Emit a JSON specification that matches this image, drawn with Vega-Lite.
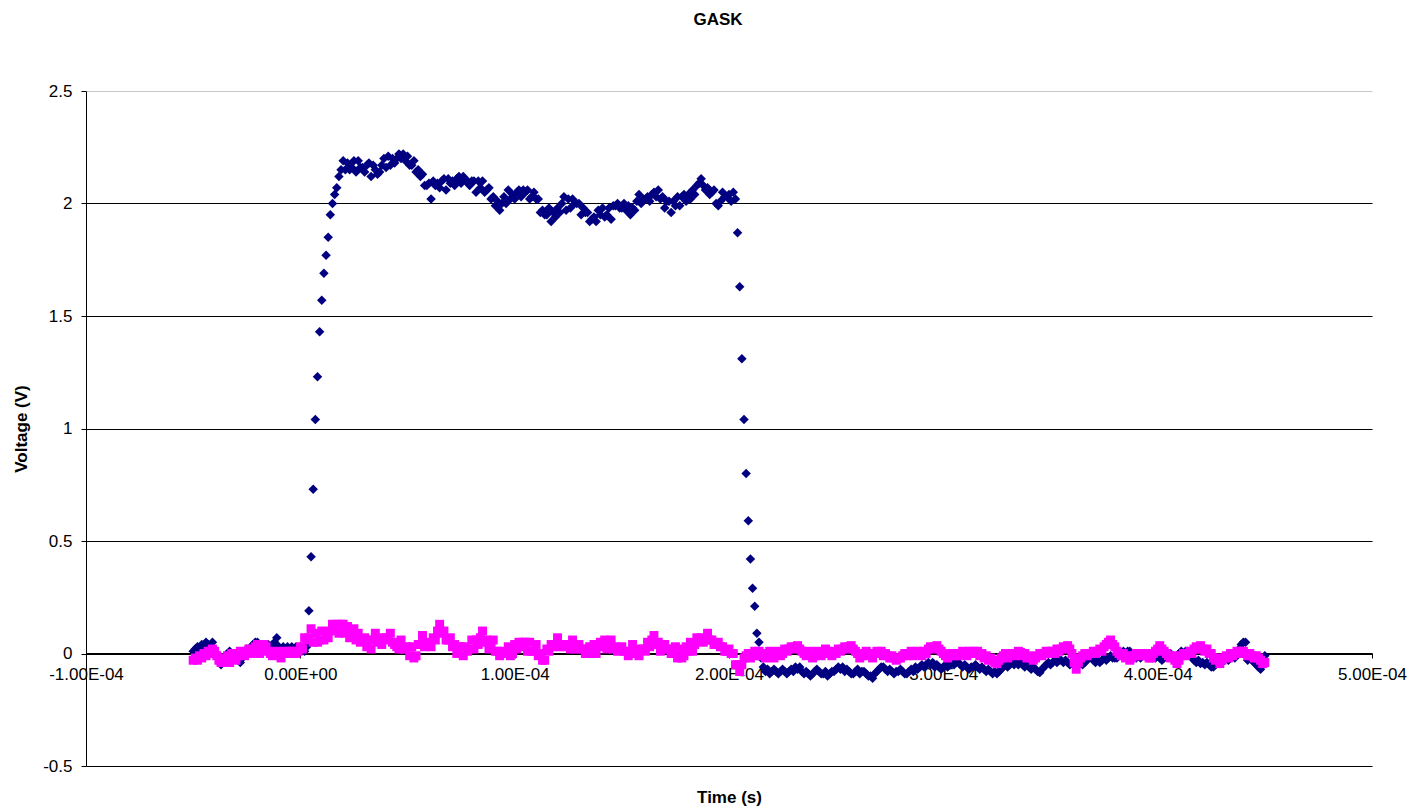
{
"$schema": "https://vega.github.io/schema/vega-lite/v6.json",
"autosize": "none",
"width": 1286,
"height": 675,
"padding": {"left": 86, "top": 91, "right": 39, "bottom": 42},
"background": "white",
"title": {"text": "GASK", "font": "Liberation Sans", "fontSize": 17, "fontWeight": "bold", "color": "black", "anchor": "middle", "offset": 53, "dx": -11},
"config": {"view": {"stroke": null}},
"data": {"values": [
{"t":-50e-6,"a":0.01,"b":-0.03},{"t":-49e-6,"a":0.02,"b":-0.02},{"t":-48e-6,"a":0.03,"b":-0.03},{"t":-47e-6,"a":0.02,"b":-0.01},{"t":-46e-6,"a":0.04,"b":-0.02},
{"t":-45e-6,"a":0.03,"b":0.0},{"t":-44e-6,"a":0.05,"b":-0.01},{"t":-43e-6,"a":0.04,"b":0.01},{"t":-42e-6,"a":0.03,"b":0.0},{"t":-41e-6,"a":0.05,"b":0.02},
{"t":-40e-6,"a":0.02,"b":0.01},{"t":-39e-6,"a":0.0,"b":-0.01},{"t":-38e-6,"a":-0.02,"b":-0.03},{"t":-37e-6,"a":-0.05,"b":-0.04},{"t":-36e-6,"a":-0.03,"b":-0.02},
{"t":-35e-6,"a":-0.01,"b":-0.03},{"t":-34e-6,"a":0.0,"b":-0.01},{"t":-33e-6,"a":0.01,"b":-0.04},{"t":-32e-6,"a":-0.01,"b":0.0},{"t":-31e-6,"a":0.0,"b":-0.02},
{"t":-30e-6,"a":-0.02,"b":-0.03},{"t":-29e-6,"a":-0.03,"b":-0.01},{"t":-28e-6,"a":-0.04,"b":0.01},{"t":-27e-6,"a":-0.02,"b":0.0},{"t":-26e-6,"a":0.0,"b":-0.01},
{"t":-25e-6,"a":0.02,"b":0.01},{"t":-24e-6,"a":0.01,"b":0.02},{"t":-23e-6,"a":0.03,"b":0.0},{"t":-22e-6,"a":0.04,"b":0.02},{"t":-21e-6,"a":0.05,"b":0.03},
{"t":-20e-6,"a":0.05,"b":0.04},{"t":-19e-6,"a":0.04,"b":0.0},{"t":-18e-6,"a":0.03,"b":0.02},{"t":-17e-6,"a":0.02,"b":0.04},{"t":-16e-6,"a":0.03,"b":0.03},
{"t":-15e-6,"a":0.04,"b":0.01},{"t":-14e-6,"a":0.03,"b":0.0},{"t":-13e-6,"a":0.04,"b":-0.01},{"t":-12e-6,"a":0.05,"b":0.0},{"t":-11e-6,"a":0.07,"b":0.01},
{"t":-10e-6,"a":0.03,"b":0.0},{"t":-9e-6,"a":0.02,"b":-0.02},{"t":-8e-6,"a":0.03,"b":0.0},{"t":-7e-6,"a":0.02,"b":0.01},{"t":-6e-6,"a":0.03,"b":0.0},
{"t":-5e-6,"a":0.02,"b":0.01},{"t":-4e-6,"a":0.03,"b":0.0},{"t":-3e-6,"a":0.02,"b":0.01},{"t":-2e-6,"a":0.03,"b":0.0},{"t":-1e-6,"a":0.02,"b":0.01},
{"t":0,"a":0.03,"b":0.03},{"t":1e-6,"a":0.02,"b":0.02},{"t":2e-6,"a":0.01,"b":0.07},{"t":3e-6,"a":0.03,"b":0.06},{"t":4e-6,"a":0.19,"b":0.07},
{"t":5e-6,"a":0.43,"b":0.11},{"t":6e-6,"a":0.73,"b":0.05},{"t":7e-6,"a":1.04,"b":0.09},{"t":8e-6,"a":1.23,"b":0.05},{"t":9e-6,"a":1.43,"b":0.06},
{"t":10e-6,"a":1.57,"b":0.1},{"t":11e-6,"a":1.69,"b":0.06},{"t":12e-6,"a":1.77,"b":0.09},{"t":13e-6,"a":1.85,"b":0.07},{"t":14e-6,"a":1.95,"b":0.1},
{"t":15e-6,"a":2.0,"b":0.13},{"t":16e-6,"a":2.04,"b":0.11},{"t":17e-6,"a":2.07,"b":0.13},{"t":18e-6,"a":2.12,"b":0.09},{"t":19e-6,"a":2.15,"b":0.13},
{"t":20e-6,"a":2.19,"b":0.13},{"t":21e-6,"a":2.15,"b":0.09},{"t":22e-6,"a":2.18,"b":0.12},{"t":23e-6,"a":2.15,"b":0.07},{"t":24e-6,"a":2.16,"b":0.08},
{"t":25e-6,"a":2.19,"b":0.11},{"t":26e-6,"a":2.14,"b":0.06},{"t":27e-6,"a":2.19,"b":0.09},{"t":28e-6,"a":2.16,"b":0.05},{"t":29e-6,"a":2.16,"b":0.06},
{"t":30e-6,"a":2.14,"b":0.07},{"t":31e-6,"a":2.17,"b":0.03},{"t":32e-6,"a":2.18,"b":0.06},{"t":33e-6,"a":2.12,"b":0.02},{"t":34e-6,"a":2.17,"b":0.06},
{"t":35e-6,"a":2.15,"b":0.09},{"t":36e-6,"a":2.13,"b":0.05},{"t":37e-6,"a":2.14,"b":0.06},{"t":38e-6,"a":2.17,"b":0.04},{"t":39e-6,"a":2.2,"b":0.07},
{"t":40e-6,"a":2.16,"b":0.07},{"t":41e-6,"a":2.21,"b":0.06},{"t":42e-6,"a":2.17,"b":0.09},{"t":43e-6,"a":2.2,"b":0.05},{"t":44e-6,"a":2.18,"b":0.04},
{"t":45e-6,"a":2.2,"b":0.03},{"t":46e-6,"a":2.22,"b":0.02},{"t":47e-6,"a":2.2,"b":0.06},{"t":48e-6,"a":2.22,"b":0.02},{"t":49e-6,"a":2.19,"b":0.02},
{"t":50e-6,"a":2.21,"b":0.03},{"t":51e-6,"a":2.17,"b":-0.01},{"t":52e-6,"a":2.17,"b":0.03},{"t":53e-6,"a":2.19,"b":-0.02},{"t":54e-6,"a":2.14,"b":-0.01},
{"t":55e-6,"a":2.15,"b":0.04},{"t":56e-6,"a":2.12,"b":0.04},{"t":57e-6,"a":2.13,"b":0.08},{"t":58e-6,"a":2.08,"b":0.03},{"t":59e-6,"a":2.08,"b":0.04},
{"t":60e-6,"a":2.09,"b":0.05},{"t":61e-6,"a":2.02,"b":0.03},{"t":62e-6,"a":2.1,"b":0.07},{"t":63e-6,"a":2.08,"b":0.06},{"t":64e-6,"a":2.09,"b":0.1},
{"t":65e-6,"a":2.07,"b":0.13},{"t":66e-6,"a":2.1,"b":0.09},{"t":67e-6,"a":2.11,"b":0.1},{"t":68e-6,"a":2.06,"b":0.06},{"t":69e-6,"a":2.11,"b":0.06},
{"t":70e-6,"a":2.09,"b":0.07},{"t":71e-6,"a":2.1,"b":0.03},{"t":72e-6,"a":2.08,"b":0.04},{"t":73e-6,"a":2.11,"b":0.0},{"t":74e-6,"a":2.12,"b":0.03},
{"t":75e-6,"a":2.09,"b":0.03},{"t":76e-6,"a":2.12,"b":-0.01},{"t":77e-6,"a":2.1,"b":0.03},{"t":78e-6,"a":2.1,"b":0.01},{"t":79e-6,"a":2.08,"b":0.02},
{"t":80e-6,"a":2.1,"b":0.06},{"t":81e-6,"a":2.1,"b":0.02},{"t":82e-6,"a":2.05,"b":0.06},{"t":83e-6,"a":2.1,"b":0.04},{"t":84e-6,"a":2.07,"b":0.07},
{"t":85e-6,"a":2.1,"b":0.1},{"t":86e-6,"a":2.05,"b":0.05},{"t":87e-6,"a":2.06,"b":0.06},{"t":88e-6,"a":2.07,"b":0.02},{"t":89e-6,"a":2.02,"b":0.03},
{"t":90e-6,"a":2.03,"b":0.06},{"t":91e-6,"a":1.99,"b":0.01},{"t":92e-6,"a":2.01,"b":0.01},{"t":93e-6,"a":1.97,"b":-0.01},{"t":94e-6,"a":2.0,"b":0.0},
{"t":95e-6,"a":2.03,"b":0.01},{"t":96e-6,"a":2.0,"b":0.0},{"t":97e-6,"a":2.06,"b":0.03},{"t":98e-6,"a":2.02,"b":-0.01},{"t":99e-6,"a":2.04,"b":0.0},
{"t":100e-6,"a":2.02,"b":0.04},{"t":101e-6,"a":2.05,"b":0.02},{"t":102e-6,"a":2.06,"b":0.05},{"t":103e-6,"a":2.03,"b":0.03},{"t":104e-6,"a":2.06,"b":0.05},
{"t":105e-6,"a":2.05,"b":0.05},{"t":106e-6,"a":2.06,"b":0.01},{"t":107e-6,"a":2.02,"b":0.05},{"t":108e-6,"a":2.03,"b":0.01},{"t":109e-6,"a":2.05,"b":0.01},
{"t":110e-6,"a":2.02,"b":0.04},{"t":111e-6,"a":2.02,"b":-0.01},{"t":112e-6,"a":1.96,"b":0.0},{"t":113e-6,"a":1.97,"b":-0.03},{"t":114e-6,"a":1.95,"b":-0.03},
{"t":115e-6,"a":1.95,"b":0.02},{"t":116e-6,"a":1.98,"b":0.01},{"t":117e-6,"a":1.92,"b":0.04},{"t":118e-6,"a":1.96,"b":0.03},{"t":119e-6,"a":1.94,"b":0.04},
{"t":120e-6,"a":1.98,"b":0.07},{"t":121e-6,"a":1.96,"b":0.03},{"t":122e-6,"a":2.0,"b":0.04},{"t":123e-6,"a":2.03,"b":0.03},{"t":124e-6,"a":1.97,"b":0.04},
{"t":125e-6,"a":2.02,"b":0.04},{"t":126e-6,"a":1.98,"b":0.02},{"t":127e-6,"a":2.02,"b":0.06},{"t":128e-6,"a":2.0,"b":0.02},{"t":129e-6,"a":2.0,"b":0.03},
{"t":130e-6,"a":2.0,"b":0.04},{"t":131e-6,"a":1.95,"b":0.02},{"t":132e-6,"a":1.98,"b":0.02},{"t":133e-6,"a":1.96,"b":0.0},{"t":134e-6,"a":1.96,"b":0.0},
{"t":135e-6,"a":1.92,"b":0.03},{"t":136e-6,"a":1.93,"b":0.01},{"t":137e-6,"a":1.94,"b":0.04},{"t":138e-6,"a":1.92,"b":0.0},{"t":139e-6,"a":1.97,"b":0.04},
{"t":140e-6,"a":1.95,"b":0.05},{"t":141e-6,"a":1.98,"b":0.03},{"t":142e-6,"a":1.94,"b":0.06},{"t":143e-6,"a":1.95,"b":0.02},{"t":144e-6,"a":1.98,"b":0.05},
{"t":145e-6,"a":1.93,"b":0.06},{"t":146e-6,"a":1.99,"b":0.02},{"t":147e-6,"a":1.99,"b":0.03},{"t":148e-6,"a":2.0,"b":0.01},{"t":149e-6,"a":1.98,"b":0.02},
{"t":150e-6,"a":1.98,"b":0.03},{"t":151e-6,"a":2.0,"b":0.01},{"t":152e-6,"a":1.97,"b":0.01},{"t":153e-6,"a":1.99,"b":-0.01},{"t":154e-6,"a":1.95,"b":0.0},
{"t":155e-6,"a":1.98,"b":0.04},{"t":156e-6,"a":1.97,"b":0.0},{"t":157e-6,"a":2.01,"b":0.01},{"t":158e-6,"a":2.04,"b":-0.01},{"t":159e-6,"a":2.0,"b":0.02},
{"t":160e-6,"a":2.02,"b":0.02},{"t":161e-6,"a":2.02,"b":0.01},{"t":162e-6,"a":2.03,"b":0.05},{"t":163e-6,"a":2.01,"b":0.03},{"t":164e-6,"a":2.04,"b":0.06},
{"t":165e-6,"a":2.05,"b":0.08},{"t":166e-6,"a":2.03,"b":0.04},{"t":167e-6,"a":2.06,"b":0.05},{"t":168e-6,"a":2.02,"b":0.01},{"t":169e-6,"a":2.03,"b":0.04},
{"t":170e-6,"a":1.98,"b":0.04},{"t":171e-6,"a":2.01,"b":0.02},{"t":172e-6,"a":2.01,"b":0.02},{"t":173e-6,"a":1.96,"b":0.0},{"t":174e-6,"a":2.01,"b":0.0},
{"t":175e-6,"a":1.99,"b":0.03},{"t":176e-6,"a":2.03,"b":-0.02},{"t":177e-6,"a":1.99,"b":0.02},{"t":178e-6,"a":2.03,"b":-0.02},{"t":179e-6,"a":2.04,"b":-0.01},
{"t":180e-6,"a":2.01,"b":0.03},{"t":181e-6,"a":2.04,"b":0.01},{"t":182e-6,"a":2.02,"b":0.05},{"t":183e-6,"a":2.06,"b":0.01},{"t":184e-6,"a":2.04,"b":0.04},
{"t":185e-6,"a":2.08,"b":0.07},{"t":186e-6,"a":2.09,"b":0.06},{"t":187e-6,"a":2.11,"b":0.07},{"t":188e-6,"a":2.08,"b":0.05},{"t":189e-6,"a":2.06,"b":0.06},
{"t":190e-6,"a":2.07,"b":0.09},{"t":191e-6,"a":2.04,"b":0.06},{"t":192e-6,"a":2.05,"b":0.06},{"t":193e-6,"a":2.06,"b":0.04},{"t":194e-6,"a":2.0,"b":0.04},
{"t":195e-6,"a":1.99,"b":0.05},{"t":196e-6,"a":2.01,"b":0.03},{"t":197e-6,"a":2.05,"b":0.03},{"t":198e-6,"a":2.03,"b":0.01},{"t":199e-6,"a":2.03,"b":0.01},
{"t":200e-6,"a":2.04,"b":0.02},{"t":201e-6,"a":2.01,"b":0.0},{"t":202e-6,"a":2.05,"b":0.0},{"t":203e-6,"a":2.02,"b":-0.05},{"t":204e-6,"a":1.87,"b":-0.05},
{"t":205e-6,"a":1.63,"b":-0.08},{"t":206e-6,"a":1.31,"b":-0.05},{"t":207e-6,"a":1.04,"b":-0.02},{"t":208e-6,"a":0.8,"b":-0.01},{"t":209e-6,"a":0.59,"b":0.0},
{"t":210e-6,"a":0.42,"b":-0.02},{"t":211e-6,"a":0.29,"b":0.0},{"t":212e-6,"a":0.21,"b":0.01},{"t":213e-6,"a":0.09,"b":-0.01},{"t":214e-6,"a":0.05,"b":0.01},
{"t":215e-6,"a":-0.02,"b":-0.01},{"t":216e-6,"a":-0.06,"b":0.0},{"t":217e-6,"a":-0.08,"b":-0.02},{"t":218e-6,"a":-0.07,"b":-0.01},{"t":219e-6,"a":-0.09,"b":0.01},
{"t":220e-6,"a":-0.08,"b":0.0},{"t":221e-6,"a":-0.07,"b":-0.02},{"t":222e-6,"a":-0.08,"b":0.0},{"t":223e-6,"a":-0.09,"b":0.01},{"t":224e-6,"a":-0.08,"b":-0.01},
{"t":225e-6,"a":-0.07,"b":0.0},{"t":226e-6,"a":-0.08,"b":0.02},{"t":227e-6,"a":-0.09,"b":0.01},{"t":228e-6,"a":-0.08,"b":0.02},{"t":229e-6,"a":-0.07,"b":0.03},
{"t":230e-6,"a":-0.08,"b":0.02},{"t":231e-6,"a":-0.06,"b":0.03},{"t":232e-6,"a":-0.07,"b":0.035},{"t":233e-6,"a":-0.06,"b":0.02},{"t":234e-6,"a":-0.08,"b":0.01},
{"t":235e-6,"a":-0.09,"b":0.0},{"t":236e-6,"a":-0.08,"b":-0.01},{"t":237e-6,"a":-0.09,"b":0.01},{"t":238e-6,"a":-0.1,"b":0.0},{"t":239e-6,"a":-0.09,"b":-0.02},
{"t":240e-6,"a":-0.08,"b":-0.01},{"t":241e-6,"a":-0.07,"b":0.01},{"t":242e-6,"a":-0.08,"b":0.0},{"t":243e-6,"a":-0.09,"b":-0.01},{"t":244e-6,"a":-0.09,"b":0.0},
{"t":245e-6,"a":-0.08,"b":0.02},{"t":246e-6,"a":-0.1,"b":0.01},{"t":247e-6,"a":-0.09,"b":0.0},{"t":248e-6,"a":-0.08,"b":-0.01},{"t":249e-6,"a":-0.08,"b":0.01},
{"t":250e-6,"a":-0.07,"b":0.0},{"t":251e-6,"a":-0.06,"b":0.02},{"t":252e-6,"a":-0.07,"b":0.01},{"t":253e-6,"a":-0.06,"b":0.02},{"t":254e-6,"a":-0.08,"b":0.03},
{"t":255e-6,"a":-0.07,"b":0.02},{"t":256e-6,"a":-0.08,"b":0.03},{"t":257e-6,"a":-0.09,"b":0.035},{"t":258e-6,"a":-0.09,"b":0.02},{"t":259e-6,"a":-0.08,"b":0.01},
{"t":260e-6,"a":-0.07,"b":0.0},{"t":261e-6,"a":-0.09,"b":-0.02},{"t":262e-6,"a":-0.08,"b":-0.01},{"t":263e-6,"a":-0.08,"b":0.0},{"t":264e-6,"a":-0.09,"b":0.01},
{"t":265e-6,"a":-0.1,"b":-0.01},{"t":266e-6,"a":-0.1,"b":0.0},{"t":267e-6,"a":-0.11,"b":-0.02},{"t":268e-6,"a":-0.09,"b":0.0},{"t":269e-6,"a":-0.08,"b":0.01},
{"t":270e-6,"a":-0.07,"b":0.0},{"t":271e-6,"a":-0.06,"b":0.01},{"t":272e-6,"a":-0.06,"b":-0.01},{"t":273e-6,"a":-0.07,"b":0.0},{"t":274e-6,"a":-0.08,"b":-0.01},
{"t":275e-6,"a":-0.07,"b":-0.02},{"t":276e-6,"a":-0.08,"b":-0.01},{"t":277e-6,"a":-0.09,"b":-0.02},{"t":278e-6,"a":-0.08,"b":-0.03},{"t":279e-6,"a":-0.08,"b":-0.02},
{"t":280e-6,"a":-0.07,"b":-0.02},{"t":281e-6,"a":-0.08,"b":-0.01},{"t":282e-6,"a":-0.09,"b":0.0},{"t":283e-6,"a":-0.09,"b":-0.01},{"t":284e-6,"a":-0.08,"b":0.0},
{"t":285e-6,"a":-0.07,"b":0.01},{"t":286e-6,"a":-0.08,"b":-0.01},{"t":287e-6,"a":-0.06,"b":0.0},{"t":288e-6,"a":-0.07,"b":0.01},{"t":289e-6,"a":-0.06,"b":0.0},
{"t":290e-6,"a":-0.05,"b":-0.01},{"t":291e-6,"a":-0.06,"b":0.01},{"t":292e-6,"a":-0.05,"b":0.0},{"t":293e-6,"a":-0.04,"b":0.02},{"t":294e-6,"a":-0.05,"b":0.03},
{"t":295e-6,"a":-0.04,"b":0.02},{"t":296e-6,"a":-0.06,"b":0.03},{"t":297e-6,"a":-0.05,"b":0.035},{"t":298e-6,"a":-0.06,"b":0.02},{"t":299e-6,"a":-0.07,"b":0.01},
{"t":300e-6,"a":-0.06,"b":0.0},{"t":301e-6,"a":-0.05,"b":-0.01},{"t":302e-6,"a":-0.06,"b":-0.02},{"t":303e-6,"a":-0.05,"b":-0.01},{"t":304e-6,"a":-0.04,"b":0.0},
{"t":305e-6,"a":-0.05,"b":-0.01},{"t":306e-6,"a":-0.04,"b":0.0},{"t":307e-6,"a":-0.04,"b":-0.01},{"t":308e-6,"a":-0.05,"b":0.0},{"t":309e-6,"a":-0.06,"b":0.01},
{"t":310e-6,"a":-0.05,"b":0.0},{"t":311e-6,"a":-0.06,"b":-0.01},{"t":312e-6,"a":-0.07,"b":0.01},{"t":313e-6,"a":-0.06,"b":0.0},{"t":314e-6,"a":-0.06,"b":0.01},
{"t":315e-6,"a":-0.05,"b":0.0},{"t":316e-6,"a":-0.06,"b":0.01},{"t":317e-6,"a":-0.07,"b":-0.01},{"t":318e-6,"a":-0.06,"b":0.0},{"t":319e-6,"a":-0.07,"b":-0.02},
{"t":320e-6,"a":-0.08,"b":-0.01},{"t":321e-6,"a":-0.07,"b":-0.03},{"t":322e-6,"a":-0.08,"b":-0.02},{"t":323e-6,"a":-0.09,"b":-0.03},{"t":324e-6,"a":-0.08,"b":-0.04},
{"t":325e-6,"a":-0.09,"b":-0.045},{"t":326e-6,"a":-0.08,"b":-0.03},{"t":327e-6,"a":-0.07,"b":-0.02},{"t":328e-6,"a":-0.06,"b":-0.01},{"t":329e-6,"a":-0.05,"b":0.0},
{"t":330e-6,"a":-0.06,"b":-0.02},{"t":331e-6,"a":-0.05,"b":-0.01},{"t":332e-6,"a":-0.04,"b":0.0},{"t":333e-6,"a":-0.05,"b":-0.01},{"t":334e-6,"a":-0.04,"b":0.0},
{"t":335e-6,"a":-0.05,"b":0.01},{"t":336e-6,"a":-0.04,"b":0.005},{"t":337e-6,"a":-0.05,"b":-0.01},{"t":338e-6,"a":-0.06,"b":0.0},{"t":339e-6,"a":-0.05,"b":-0.02},
{"t":340e-6,"a":-0.06,"b":-0.01},{"t":341e-6,"a":-0.07,"b":-0.02},{"t":342e-6,"a":-0.06,"b":-0.03},{"t":343e-6,"a":-0.07,"b":-0.02},{"t":344e-6,"a":-0.08,"b":-0.01},
{"t":345e-6,"a":-0.085,"b":0.0},{"t":346e-6,"a":-0.07,"b":-0.01},{"t":347e-6,"a":-0.06,"b":0.0},{"t":348e-6,"a":-0.05,"b":0.01},{"t":349e-6,"a":-0.04,"b":0.0},
{"t":350e-6,"a":-0.05,"b":0.01},{"t":351e-6,"a":-0.04,"b":0.01},{"t":352e-6,"a":-0.03,"b":0.0},{"t":353e-6,"a":-0.04,"b":0.02},{"t":354e-6,"a":-0.03,"b":0.01},
{"t":355e-6,"a":-0.03,"b":0.02},{"t":356e-6,"a":-0.04,"b":0.03},{"t":357e-6,"a":-0.03,"b":0.02},{"t":358e-6,"a":-0.04,"b":0.035},{"t":359e-6,"a":-0.05,"b":0.02},
{"t":360e-6,"a":-0.04,"b":0.0},{"t":361e-6,"a":-0.05,"b":-0.04},{"t":362e-6,"a":-0.06,"b":-0.07},{"t":363e-6,"a":-0.05,"b":-0.04},{"t":364e-6,"a":-0.04,"b":-0.02},
{"t":365e-6,"a":-0.05,"b":-0.01},{"t":366e-6,"a":-0.04,"b":0.0},{"t":367e-6,"a":-0.03,"b":-0.01},{"t":368e-6,"a":-0.02,"b":0.0},{"t":369e-6,"a":-0.02,"b":0.0},
{"t":370e-6,"a":-0.03,"b":0.01},{"t":371e-6,"a":-0.04,"b":0.0},{"t":372e-6,"a":-0.03,"b":0.01},{"t":373e-6,"a":-0.04,"b":0.02},{"t":374e-6,"a":-0.03,"b":0.01},
{"t":375e-6,"a":-0.02,"b":0.03},{"t":376e-6,"a":-0.03,"b":0.04},{"t":377e-6,"a":-0.02,"b":0.05},{"t":378e-6,"a":-0.01,"b":0.06},{"t":379e-6,"a":-0.02,"b":0.04},
{"t":380e-6,"a":-0.02,"b":0.03},{"t":381e-6,"a":-0.02,"b":0.01},{"t":382e-6,"a":-0.01,"b":0.0},{"t":383e-6,"a":0.0,"b":-0.01},{"t":384e-6,"a":0.01,"b":0.0},
{"t":385e-6,"a":0.0,"b":-0.02},{"t":386e-6,"a":0.01,"b":-0.01},{"t":387e-6,"a":0.01,"b":-0.03},{"t":388e-6,"a":0.0,"b":-0.02},{"t":389e-6,"a":-0.01,"b":-0.01},
{"t":390e-6,"a":-0.02,"b":0.0},{"t":391e-6,"a":-0.01,"b":-0.01},{"t":392e-6,"a":-0.02,"b":0.0},{"t":393e-6,"a":-0.01,"b":-0.01},{"t":394e-6,"a":0.0,"b":0.0},
{"t":395e-6,"a":-0.01,"b":-0.01},{"t":396e-6,"a":0.0,"b":-0.02},{"t":397e-6,"a":0.0,"b":-0.02},{"t":398e-6,"a":-0.01,"b":0.0},{"t":399e-6,"a":-0.02,"b":0.01},
{"t":400e-6,"a":-0.01,"b":0.02},{"t":401e-6,"a":-0.02,"b":0.035},{"t":402e-6,"a":-0.03,"b":0.02},{"t":403e-6,"a":-0.02,"b":0.01},{"t":404e-6,"a":-0.01,"b":0.0},
{"t":405e-6,"a":0.0,"b":-0.01},{"t":406e-6,"a":0.0,"b":-0.02},{"t":407e-6,"a":-0.01,"b":-0.01},{"t":408e-6,"a":-0.02,"b":-0.03},{"t":409e-6,"a":-0.01,"b":-0.045},
{"t":410e-6,"a":0.0,"b":-0.03},{"t":411e-6,"a":0.01,"b":-0.01},{"t":412e-6,"a":0.0,"b":0.0},{"t":413e-6,"a":0.01,"b":-0.01},{"t":414e-6,"a":0.01,"b":0.0},
{"t":415e-6,"a":0.0,"b":0.01},{"t":416e-6,"a":-0.02,"b":0.0},{"t":417e-6,"a":-0.03,"b":0.02},{"t":418e-6,"a":-0.04,"b":0.03},{"t":419e-6,"a":-0.03,"b":0.02},
{"t":420e-6,"a":-0.045,"b":0.035},{"t":421e-6,"a":-0.04,"b":0.02},{"t":422e-6,"a":-0.05,"b":0.01},{"t":423e-6,"a":-0.04,"b":0.02},{"t":424e-6,"a":-0.05,"b":0.0},
{"t":425e-6,"a":-0.06,"b":0.0},{"t":426e-6,"a":-0.06,"b":-0.02},{"t":427e-6,"a":-0.05,"b":-0.03},{"t":428e-6,"a":-0.04,"b":-0.02},{"t":429e-6,"a":-0.03,"b":-0.045},
{"t":430e-6,"a":-0.04,"b":-0.03},{"t":431e-6,"a":-0.03,"b":-0.02},{"t":432e-6,"a":-0.02,"b":-0.01},{"t":433e-6,"a":-0.03,"b":-0.02},{"t":434e-6,"a":-0.02,"b":0.0},
{"t":435e-6,"a":-0.01,"b":-0.01},{"t":436e-6,"a":-0.02,"b":0.0},{"t":437e-6,"a":0.0,"b":0.01},{"t":438e-6,"a":0.02,"b":0.0},{"t":439e-6,"a":0.04,"b":0.01},
{"t":440e-6,"a":0.05,"b":0.01},{"t":441e-6,"a":0.05,"b":0.0},{"t":442e-6,"a":-0.03,"b":-0.01},{"t":443e-6,"a":-0.02,"b":0.0},{"t":444e-6,"a":-0.03,"b":-0.01},
{"t":445e-6,"a":-0.04,"b":-0.02},{"t":446e-6,"a":-0.05,"b":-0.01},{"t":447e-6,"a":-0.06,"b":-0.02},{"t":448e-6,"a":-0.07,"b":-0.03},{"t":449e-6,"a":-0.04,"b":-0.045},
{"t":450e-6,"a":-0.01,"b":-0.04}
]},
"encoding": {
  "x": {"field": "t", "type": "quantitative",
    "scale": {"domain": [-0.0001, 0.0005], "nice": false, "zero": false},
    "axis": {"title": "Time (s)", "values": [-0.0001, 0, 0.0001, 0.0002, 0.0003, 0.0004, 0.0005],
      "labelExpr": "replace(replace(replace(format(datum.value,'.2e'),'\u2212','-'),'e-','E-0'),'e+','E+0')",
      "offset": -113, "grid": false, "tickSize": 5, "tickColor": "black", "domainColor": "black",
      "labelFont": "Liberation Sans", "labelFontSize": 17, "labelColor": "black", "labelPadding": 8,
      "labelFlush": false, "labelOverlap": false,
      "titleFont": "Liberation Sans", "titleFontSize": 17, "titleFontWeight": "bold", "titleColor": "black",
      "titleY": 136}}
},
"layer": [
  {"mark": {"type": "point", "shape": "diamond", "filled": true, "size": 90, "color": "#000080", "opacity": 1},
   "encoding": {"y": {"field": "a", "type": "quantitative",
     "scale": {"domain": [-0.5, 2.5], "nice": false, "zero": false},
     "axis": {"title": "Voltage (V)", "values": [-0.5, 0, 0.5, 1, 1.5, 2, 2.5], "labelExpr": "datum.value + ''",
       "grid": true, "gridColor": {"condition": {"test": "datum.value == 2.5", "value": "#c8c8c8"}, "value": "black"}, "gridWidth": 1, "tickSize": 5, "tickColor": "black", "domainColor": "black",
       "labelFont": "Liberation Sans", "labelFontSize": 17, "labelColor": "black", "labelPadding": 9,
       "titleFont": "Liberation Sans", "titleFontSize": 17, "titleFontWeight": "bold", "titleColor": "black", "titlePadding": 12}}}},
  {"mark": {"type": "point", "shape": "square", "filled": true, "size": 80, "color": "#FF00FF", "opacity": 1},
   "encoding": {"y": {"field": "b", "type": "quantitative",
     "scale": {"domain": [-0.5, 2.5], "nice": false, "zero": false},
     "axis": {"title": "Voltage (V)", "values": [-0.5, 0, 0.5, 1, 1.5, 2, 2.5], "labelExpr": "datum.value + ''",
       "grid": true, "gridColor": {"condition": {"test": "datum.value == 2.5", "value": "#c8c8c8"}, "value": "black"}, "gridWidth": 1, "tickSize": 5, "tickColor": "black", "domainColor": "black",
       "labelFont": "Liberation Sans", "labelFontSize": 17, "labelColor": "black", "labelPadding": 9,
       "titleFont": "Liberation Sans", "titleFontSize": 17, "titleFontWeight": "bold", "titleColor": "black", "titlePadding": 12}}}}
]
}
